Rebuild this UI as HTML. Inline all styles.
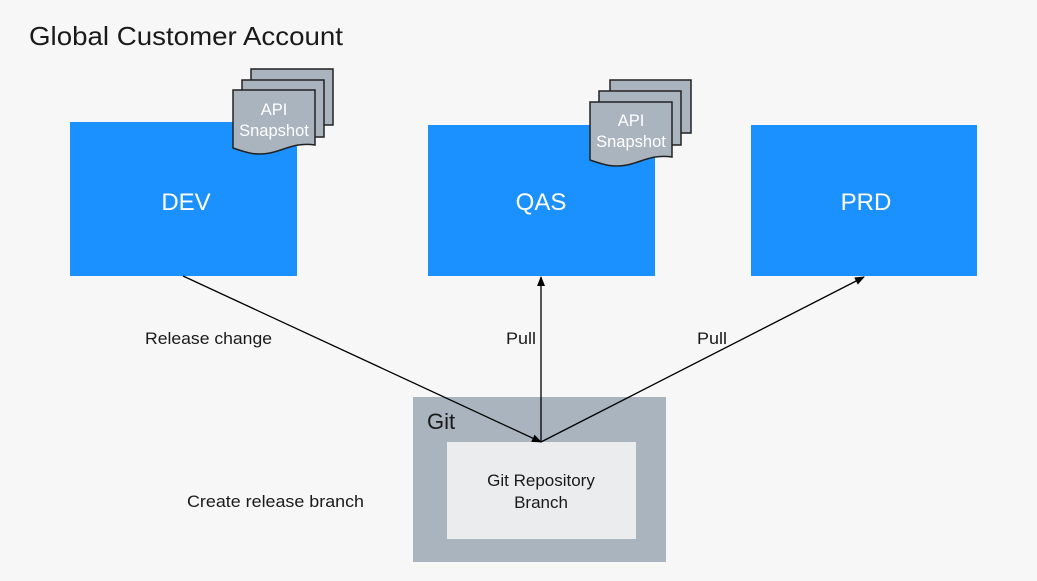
<!DOCTYPE html>
<html><head><meta charset="utf-8"><style>
html,body{margin:0;padding:0;background:#f7f7f7;}
svg{display:block;font-family:"Liberation Sans",sans-serif;}
</style></head><body>
<svg width="1037" height="581" viewBox="0 0 1037 581" xmlns="http://www.w3.org/2000/svg">
<rect width="1037" height="581" fill="#f7f7f7"/>
<text x="29" y="45" font-size="26" fill="#1a1a1a" textLength="314" lengthAdjust="spacingAndGlyphs">Global Customer Account</text>
<defs>
<marker id="ah" markerWidth="10" markerHeight="10" refX="9" refY="5" orient="auto" markerUnits="userSpaceOnUse">
<path d="M0,1 L10,5 L0,9 z" fill="#000"/></marker>
</defs>
<rect x="70" y="122" width="227" height="154" fill="#1b90ff"/>
<rect x="428" y="125" width="227" height="151" fill="#1b90ff"/>
<rect x="751" y="125" width="226" height="151" fill="#1b90ff"/>
<text x="186" y="210" font-size="24" fill="#fff" text-anchor="middle">DEV</text>
<text x="541" y="210" font-size="24" fill="#fff" text-anchor="middle">QAS</text>
<text x="866" y="210" font-size="24" fill="#fff" text-anchor="middle">PRD</text>
<g fill="#a9b4be" stroke="#222" stroke-width="1.5">
<rect x="251" y="69" width="82" height="56"/>
<rect x="242" y="80" width="82" height="57"/>
<path d="M233,90 H315 V145 C295,142 285,150 270,153 C255,156 245,152 233,148 Z"/>
<rect x="610" y="80" width="81" height="53"/>
<rect x="599" y="91" width="82" height="54"/>
<path d="M590,102 H672 V157 C652,154 642,162 627,165 C612,168 602,164 590,160 Z"/>
</g>
<text x="274" y="115" font-size="16.5" fill="#fff" text-anchor="middle">API</text>
<text x="274" y="136" font-size="16.5" fill="#fff" text-anchor="middle">Snapshot</text>
<text x="631" y="126" font-size="16.5" fill="#fff" text-anchor="middle">API</text>
<text x="631" y="147" font-size="16.5" fill="#fff" text-anchor="middle">Snapshot</text>
<rect x="413" y="397" width="253" height="165" fill="#a9b4be"/>
<rect x="447" y="442" width="189" height="97" fill="#eaecee"/>
<text x="427" y="429" font-size="22" fill="#1a1a1a">Git</text>
<text x="541" y="486" font-size="17" fill="#1a1a1a" text-anchor="middle">Git Repository</text>
<text x="541" y="508" font-size="17" fill="#1a1a1a" text-anchor="middle">Branch</text>
<g stroke="#000" stroke-width="1.3" fill="none">
<line x1="183" y1="276" x2="541" y2="442" marker-end="url(#ah)"/>
<line x1="541" y1="442" x2="541" y2="277" marker-end="url(#ah)"/>
<line x1="541" y1="442" x2="864" y2="277" marker-end="url(#ah)"/>
</g>
<g font-size="17" fill="#1a1a1a">
<text x="145" y="344" textLength="127" lengthAdjust="spacingAndGlyphs">Release change</text>
<text x="506" y="344" textLength="30" lengthAdjust="spacingAndGlyphs">Pull</text>
<text x="697" y="344" textLength="30" lengthAdjust="spacingAndGlyphs">Pull</text>
<text x="187" y="507" textLength="177" lengthAdjust="spacingAndGlyphs">Create release branch</text>
</g>
</svg>
</body></html>
